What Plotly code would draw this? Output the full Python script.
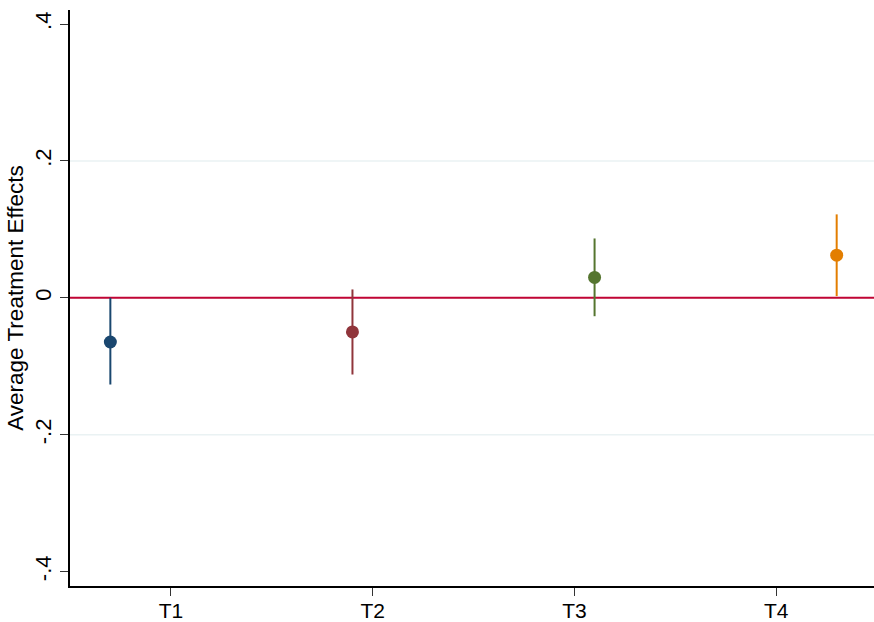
import plotly.graph_objects as go

categories = ["T1", "T2", "T3", "T4"]
tick_positions = [1, 2, 3, 4]
point_positions = [0.7, 1.9, 3.1, 4.3]
estimates = [-0.0645, -0.0497, 0.0298, 0.0624]
ci_upper = [0.0000, 0.0123, 0.0868, 0.1220]
ci_lower = [-0.1266, -0.1120, -0.0268, 0.0025]
colors = ["#1a476f", "#90353b", "#55752f", "#e37e00"]
y_ticks = [-0.4, -0.2, 0, 0.2, 0.4]
y_tick_text = ["-.4", "-.2", "0", ".2", ".4"]
grid_vals = [-0.2, 0, 0.2]
ref_value = 0

FONT = "Liberation Sans, Arial, sans-serif"

fig = go.Figure()

for i in range(len(categories)):
    fig.add_trace(go.Scatter(
        x=[point_positions[i]], y=[estimates[i]], mode="markers",
        marker=dict(color=colors[i], size=13),
        error_y=dict(type="data", symmetric=False,
                     array=[ci_upper[i] - estimates[i]],
                     arrayminus=[estimates[i] - ci_lower[i]],
                     color=colors[i], thickness=2, width=0),
        name=categories[i], showlegend=False,
    ))

# light gridlines at interior ticks only
for g in grid_vals:
    fig.add_shape(type="line", xref="paper", x0=0, x1=1, yref="y", y0=g, y1=g,
                  line=dict(color="#eaf2f3", width=1.5), layer="below")

fig.add_shape(type="line", xref="paper", x0=0, x1=1, yref="y", y0=ref_value, y1=ref_value,
              line=dict(color="#c10534", width=2), layer="below")

yr = [-0.421, 0.4206]
fig.update_layout(
    width=874, height=622,
    margin=dict(l=70, r=0, t=10, b=36),
    plot_bgcolor="white", paper_bgcolor="white",
    font=dict(family=FONT, size=22, color="black"),
    xaxis=dict(range=[0.5, 4.485], tickvals=tick_positions, ticktext=categories,
               showgrid=False, zeroline=False, showline=True, linecolor="black", linewidth=1.5,
               ticks="outside", ticklen=8, tickcolor="#333333", tickwidth=1.2,
               tickfont=dict(size=21), automargin=False, ticklabelstandoff=-3),
    yaxis=dict(range=yr, tickvals=y_ticks, ticktext=y_tick_text, tickangle=-90,
               showgrid=False, zeroline=False, showline=True, linecolor="black", linewidth=1.5,
               ticks="outside", ticklen=8, tickcolor="#333333", tickwidth=1.2,
               tickfont=dict(size=22), automargin=False,
               title=dict(text="Average Treatment Effects", font=dict(size=22.5), standoff=2)),
)

fig.write_html("out.html")
